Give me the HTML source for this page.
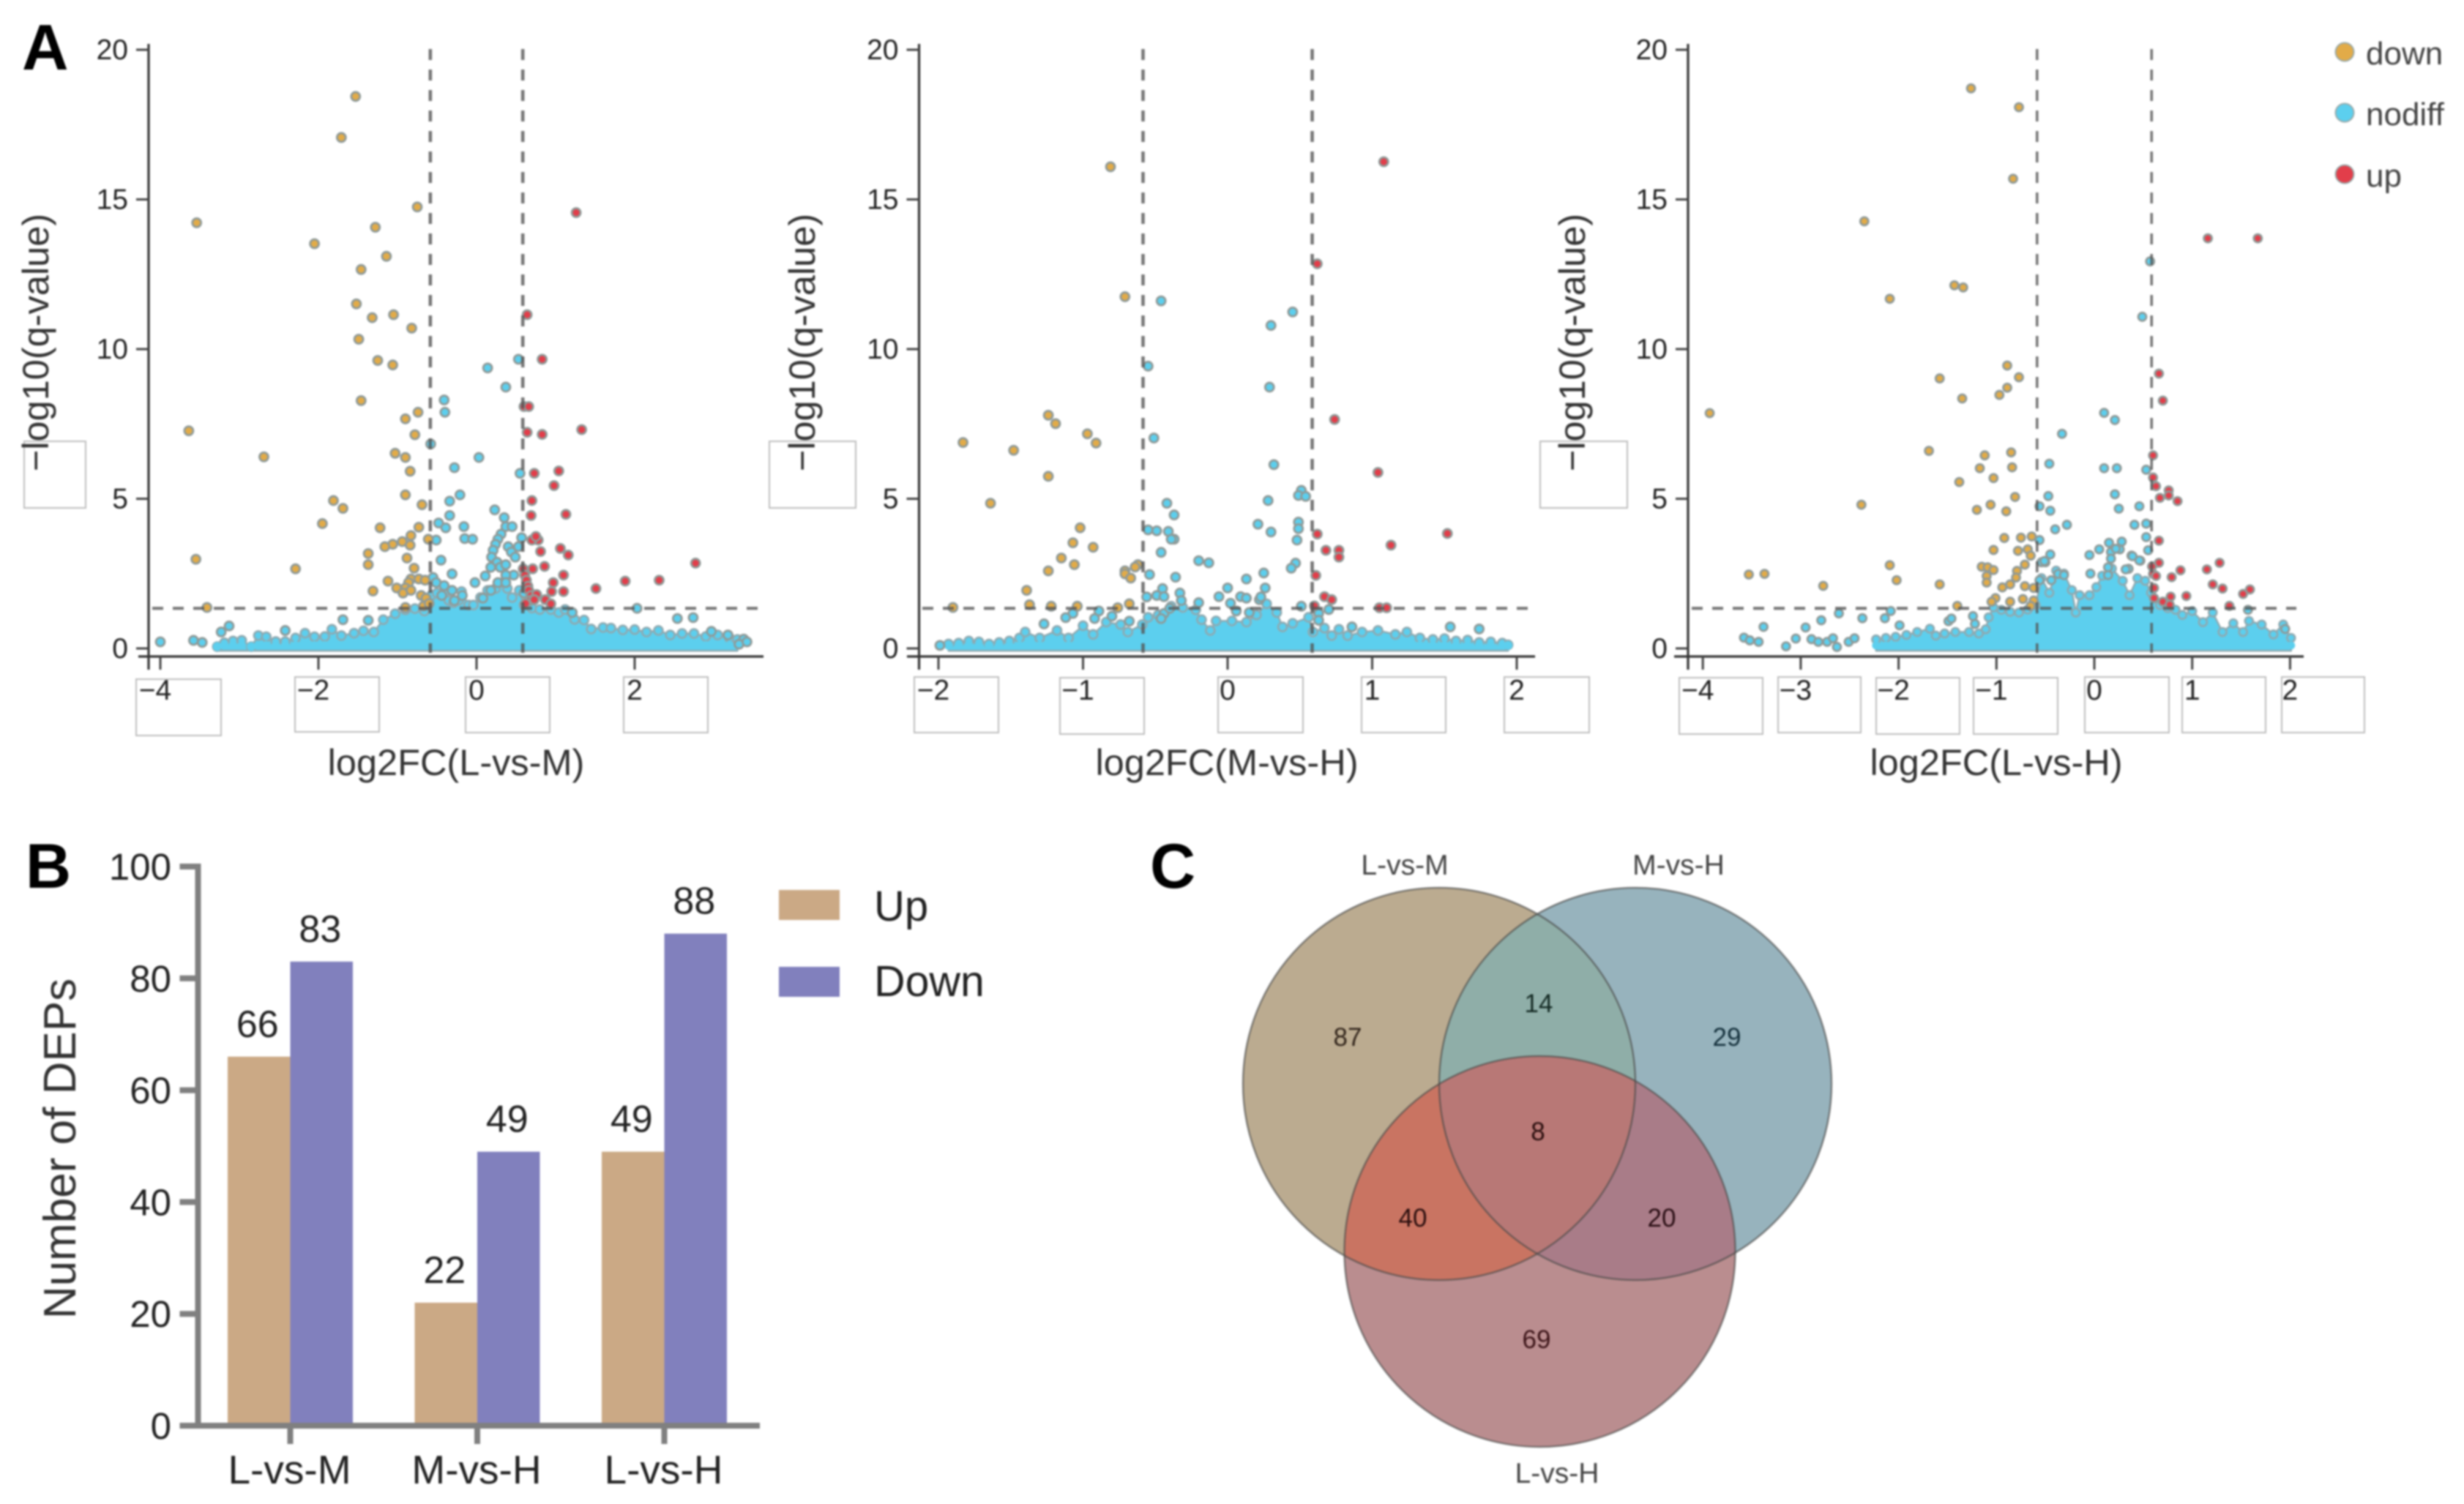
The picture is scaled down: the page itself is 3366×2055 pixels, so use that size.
<!DOCTYPE html>
<html lang="en">
<head>
<meta charset="utf-8">
<title>DEP volcano plots, bar chart and Venn diagram</title>
<style>
html,body{margin:0;padding:0;background:#fff;width:3366px;height:2055px;overflow:hidden}
svg{display:block;filter:blur(1.3px)}
text{font-family:"Liberation Sans",sans-serif;fill:#222}
</style>
</head>
<body>
<svg id="fig" xmlns="http://www.w3.org/2000/svg" width="3366" height="2055" viewBox="0 0 3366 2055">
  <rect width="3366" height="2055" fill="#fff"/>
  <text x="30" y="95" font-size="88" font-weight="bold" style="fill:#000">A</text>
  <text x="35" y="1213" font-size="86" font-weight="bold" style="fill:#000">B</text>
  <text x="1571" y="1213" font-size="86" font-weight="bold" style="fill:#000">C</text>
  <g id="volcanoes"></g>
  <g id="legendA"></g>
  <g id="bars"></g>
  <defs>
    <clipPath id="clipLM"><circle cx="1966" cy="1481" r="268"/></clipPath>
    <clipPath id="clipMH"><circle cx="2234" cy="1481" r="268"/></clipPath>
  </defs>
  <g>
    <circle cx="1966" cy="1481" r="268" fill="#BBAB90"/>
    <circle cx="2234" cy="1481" r="268" fill="#97B3BD"/>
    <circle cx="2103.5" cy="1710" r="267" fill="#BA8D8F"/>
    <circle cx="2234" cy="1481" r="268" fill="#8FAEA8" clip-path="url(#clipLM)"/>
    <circle cx="2103.5" cy="1710" r="267" fill="#C97462" clip-path="url(#clipLM)"/>
    <circle cx="2103.5" cy="1710" r="267" fill="#A97C88" clip-path="url(#clipMH)"/>
    <g clip-path="url(#clipMH)">
      <circle cx="2103.5" cy="1710" r="267" fill="#B87876" clip-path="url(#clipLM)"/>
    </g>
    <circle cx="1966" cy="1481" r="268" fill="none" stroke="#4a4a48" stroke-opacity=".65" stroke-width="2.5"/>
    <circle cx="2234" cy="1481" r="268" fill="none" stroke="#4a4a48" stroke-opacity=".65" stroke-width="2.5"/>
    <circle cx="2103.5" cy="1710" r="267" fill="none" stroke="#4a4a48" stroke-opacity=".65" stroke-width="2.5"/>
    <text x="1919" y="1195" font-size="39" text-anchor="middle" style="fill:#444">L-vs-M</text>
    <text x="2293" y="1195" font-size="39" text-anchor="middle" style="fill:#444">M-vs-H</text>
    <text x="2127" y="2026" font-size="39" text-anchor="middle" style="fill:#444">L-vs-H</text>
    <text x="1841" y="1429" font-size="35" text-anchor="middle" style="fill:#33261c">87</text>
    <text x="2102" y="1383" font-size="35" text-anchor="middle" style="fill:#142a24">14</text>
    <text x="2359" y="1429" font-size="35" text-anchor="middle" style="fill:#14303c">29</text>
    <text x="2101" y="1558" font-size="35" text-anchor="middle" style="fill:#2a0e0e">8</text>
    <text x="1930" y="1676" font-size="35" text-anchor="middle" style="fill:#2a0e0e">40</text>
    <text x="2270" y="1676" font-size="35" text-anchor="middle" style="fill:#2a0e14">20</text>
    <text x="2099" y="1842" font-size="35" text-anchor="middle" style="fill:#3c1418">69</text>
  </g>
</svg>
<script>
/* ---------- Panel A data: [log2FC, -log10(q)] ---------- */
const lvmDown = [[-1.53,18.44],[-1.71,17.07],[-.75,14.75],[-3.54,14.22],[-1.28,14.07],[-2.05,13.52],[-1.14,13.1],[-1.46,12.66],[-1.52,11.51],[-1.32,11.05],[-1.05,11.15],[-.82,10.7],[-1.49,10.33],[-1.25,9.62],[-1.06,9.47],[-1.46,8.28],[-.74,7.89],[-.9,7.67],[-3.64,7.27],[-.78,7.14],[-1.03,6.52],[-.9,6.38],[-2.69,6.4],[-.84,5.92],[-.9,5.13],[-1.81,4.94],[-1.69,4.68],[-.69,4.8],[-1.95,4.17],[-1.22,4.03],[-.73,4.05],[-.83,3.77],[-.61,3.65],[-.94,3.57],[-1.06,3.48],[-1.16,3.4],[-.84,3.45],[-1.37,3.17],[-.88,3.02],[-3.55,2.98],[-1.37,2.8],[-.79,2.68],[-2.29,2.66],[-1.12,2.25],[-1.31,1.92],[-.83,2.32],[-.73,2.32],[-.65,2.28],[-.86,2.2],[-.9,2.02],[-1.01,2.02],[-.93,1.85],[-.83,1.94],[-.7,1.77],[-.64,1.68],[-3.41,1.37],[-.67,1.42],[-.9,1.37],[-.6,1.5]];
const lvmUp = [[1.26,14.56],[.64,11.15],[.83,9.66],[.6,8.08],[.66,8.08],[1.33,7.31],[.64,7.22],[.83,7.15],[.73,5.85],[1.04,5.93],[.98,5.44],[.7,4.94],[.69,4.44],[1.13,4.48],[.73,3.65],[.78,3.62],[.7,3.62],[.75,3.74],[.81,3.24],[1.06,3.34],[1.16,3.12],[2.77,2.85],[.71,2.66],[.86,2.74],[1.1,2.45],[.59,2.66],[.61,2.45],[.63,2.28],[.65,2.08],[.66,1.94],[.69,1.77],[.76,1.8],[.68,1.6],[.73,1.63],[.97,2.2],[.95,1.9],[1.1,1.9],[1.51,2],[1.88,2.25],[2.31,2.28],[.87,1.63],[.94,1.49],[.62,1.5]];
const lvmNodiff = [[-.41,8.3],[-.4,7.89],[.14,9.37],[.53,9.66],[.37,8.73],[-.58,6.83],[.03,6.38],[-.28,6.04],[.55,5.85],[-.21,5.13],[-.34,4.92],[-.34,4.44],[.23,4.63],[.35,4.37],[-.48,4.19],[-.39,4.03],[-.16,4.07],[-.51,3.62],[-.15,3.67],[-.05,3.65],[.57,3.7],[.37,4.07],[.45,4.07],[.31,3.82],[.27,3.65],[.24,3.48],[.21,3.28],[.19,3.05],[.26,2.88],[.18,2.71],[.3,2.71],[.37,2.8],[.4,3.4],[.44,3.22],[.53,3.4],[.49,3.05],[.47,2.45],[.37,2.45],[.11,2.42],[-.02,2.2],[-.45,2.95],[-.31,2.49],[-.55,2.37],[-.51,2.2],[-.41,2.1],[-.31,1.94],[-.18,1.77],[-.44,1.77],[-.28,1.6],[.08,1.68],[.18,1.94],[.27,2.2],[.37,2.2],[.6,1.85],[-4,.22],[-3.58,.27],[-3.47,.2],[-3.23,.55],[-3.13,.75],[-2.42,.6],[-1.69,.96],[-1.37,.94],[2.03,1.34],[2.54,1],[2.74,1.03],[2.97,.57],[3.18,.45],[3.38,.31],[3.32,.14],[3.42,.22],[1.21,1.2]];
const lvmCloudX = [-3.28,-3.19,-3.08,-2.97,-2.85,-2.76,-2.66,-2.54,-2.42,-2.29,-2.17,-2.05,-1.92,-1.83,-1.71,-1.55,-1.43,-1.3,-1.18,-1.03,-.9,-.78,-.66,-.57,-.5,-.41,-.35,-.29,-.23,-.19,-.1,-.04,.05,.14,.24,.33,.39,.45,.54,.6,.7,.8,.94,1.04,1.12,1.24,1.36,1.45,1.6,1.7,1.85,2,2.15,2.3,2.45,2.6,2.75,2.9,3.05,3.2,3.3];
const lvmCloudTop = [.06,.19,.25,.27,.06,.43,.39,.23,.23,.35,.51,.39,.4,.64,.43,.51,.59,.55,.96,1.16,1.29,1.33,1.25,1.78,1.85,1.82,1.6,1.53,1.6,1.9,1.45,1.45,1.7,1.94,2,2.2,2,1.7,1.94,1.45,1.35,1.3,1.3,1.2,1.3,.97,.95,.65,.7,.68,.62,.63,.55,.6,.45,.5,.5,.4,.45,.35,.3];

const mvhDown = [[-.81,16.09],[-.71,11.75],[-1.24,7.79],[-1.19,7.51],[-.97,7.17],[-.91,6.86],[-1.83,6.88],[-1.48,6.62],[-1.24,5.75],[-1.64,4.85],[-1.02,4.03],[-1.07,3.53],[-.93,3.38],[-1.15,3.02],[-1.06,2.8],[-1.24,2.59],[-.62,2.8],[-.64,2.72],[-.71,2.59],[-.71,2.49],[-.67,2.35],[-1.39,1.94],[-1.9,1.37],[-1.37,1.46],[-1.22,1.41],[-1.04,1.41],[-.76,1.36],[-.68,1.49]];
const mvhUp = [[1.08,16.26],[.62,12.85],[.74,7.65],[1.04,5.88],[.62,3.82],[1.52,3.84],[1.13,3.45],[.68,3.28],[.77,3.28],[.77,3.05],[.61,2.44],[.67,1.73],[.72,1.63],[.6,1.42],[1.05,1.36],[1.1,1.36]];
const mvhNodiff = [[-.46,11.61],[.45,11.24],[.3,10.79],[-.55,9.43],[.29,8.73],[-.51,7.03],[.32,6.14],[.51,5.28],[.49,5.11],[.54,5.08],[.28,4.94],[-.42,4.85],[-.37,4.46],[.21,4.15],[.49,4.22],[.49,4],[.3,3.89],[-.55,3.96],[-.49,3.93],[-.41,3.91],[-.37,3.65],[-.39,3.65],[.48,3.62],[-.46,3.21],[-.2,2.93],[-.13,2.86],[.47,2.85],[.44,2.68],[-.54,2.47],[.25,2.52],[-.36,2.38],[.13,2.32],[0,2.02],[.26,2.02],[-.45,2],[-.49,1.77],[-.56,1.72],[-.44,1.73],[-.33,1.85],[-.32,1.6],[-.2,1.53],[-.06,1.73],[.02,1.51],[.09,1.73],[.13,1.68],[.22,1.63],[.23,1.72],[.51,1.41],[.06,1.25],[.15,1.2],[.63,1.17],[.63,.94],[.7,1.3],[-.89,1.25],[-.92,1],[-.8,1.08],[-1.07,1.17],[-1.12,1.03],[-1.27,.82],[-.68,.91],[.86,.72],[1.54,.72],[1.74,.65],[-1.99,.1],[-.44,1.17],[-.4,1.34],[-.46,1]];
const mvhCloudX = [-1.93,-1.86,-1.79,-1.72,-1.65,-1.58,-1.51,-1.44,-1.4,-1.3,-1.18,-1.1,-1,-.93,-.84,-.74,-.69,-.59,-.55,-.48,-.39,-.31,-.22,-.18,-.12,-.08,.03,.13,.2,.27,.34,.38,.45,.56,.59,.67,.72,.77,.83,.93,1.04,1.16,1.24,1.33,1.42,1.5,1.58,1.66,1.74,1.82,1.9,1.94];
const mvhCloudTop = [.15,.18,.25,.22,.15,.2,.25,.35,.55,.35,.6,.35,.76,.47,.88,.8,.55,.8,1.04,1.12,1.41,1.37,1.29,.96,.6,.92,.92,.88,1.12,1.49,1.2,.72,.84,1.04,.55,.68,.43,.64,.43,.55,.6,.47,.55,.35,.3,.33,.25,.28,.2,.22,.18,.12];

const lvhDown = [[-1.26,18.71],[-.77,18.08],[-.83,15.69],[-2.35,14.27],[-1.43,12.13],[-1.34,12.06],[-2.09,11.68],[-.89,9.45],[-.77,9.06],[-1.58,9.02],[-.89,8.71],[-.97,8.47],[-1.35,8.35],[-3.93,7.86],[-1.69,6.6],[-.85,6.55],[-1.12,6.45],[-1.17,6.02],[-.84,6.05],[-1.03,5.69],[-1.38,5.56],[-.81,5.06],[-2.38,4.8],[-1.06,4.8],[-1.2,4.63],[-.9,4.58],[-.92,3.69],[-.75,3.7],[-.64,3.74],[-1.03,3.29],[-.78,3.26],[-.68,3.31],[-.65,3.1],[-.71,2.8],[-2.09,2.78],[-1.15,2.73],[-1.09,2.71],[-1.03,2.62],[-.79,2.59],[-3.53,2.47],[-3.37,2.49],[-2.02,2.28],[-1.1,2.42],[-1.1,2.2],[-.8,2.37],[-.86,2.14],[-.94,2.04],[-.71,2.08],[-1.58,2.14],[-2.77,2.09],[-.62,2.02],[-1.01,1.68],[-1.05,1.56],[-.86,1.56],[-.73,1.65],[-.62,1.6],[-1.4,1.42],[-.65,1.42]];
const lvhUp = [[1.16,13.7],[1.67,13.7],[.66,9.18],[.7,8.28],[.6,6.45],[.6,5.71],[.63,5.42],[.76,5.28],[.67,5.03],[.76,5.11],[.85,4.92],[.66,3.6],[1.28,2.86],[1.15,2.64],[.88,2.61],[.66,2.86],[.59,2.74],[.6,2.49],[.63,2.42],[.79,2.38],[1.21,2.14],[1.31,2],[1.59,1.97],[1.52,1.82],[.61,2.02],[.61,1.68],[.78,1.73],[.94,1.75],[.7,1.56],[.77,1.46],[1.38,1.42]];
const lvhNodiff = [[.57,12.93],[.49,11.08],[.1,7.87],[.21,7.63],[-.33,7.17],[-.46,6.17],[.1,6.02],[.23,6.02],[.53,5.97],[-.47,5.09],[.21,5.15],[-.56,4.75],[-.45,4.6],[.25,4.67],[.46,4.75],[-.28,4.13],[-.4,3.98],[.41,4.13],[.53,4.17],[.53,3.72],[-.56,3.62],[-.05,3.12],[.05,3.31],[.15,3.53],[.28,3.57],[.26,3.31],[.17,3.22],[.38,3.1],[.47,2.93],[.55,3.28],[-.45,3.14],[-.5,2.88],[-.54,2.88],[-.04,2.5],[.14,2.71],[.35,2.66],[.14,2.45],[-.37,2.49],[-.56,2.28],[-.44,2.28],[-.31,2.45],[-.51,2.92],[.22,3.33],[.17,3],[.46,2.94],[.32,2.64],[.39,3.08],[-3.58,.36],[-3.52,.27],[-3.43,.22],[-3.38,.72],[-3.15,.07],[-3.05,.33],[-2.95,.7],[-2.79,.94],[-2.89,.31],[-2.82,.22],[-2.73,.22],[-2.67,.34],[-2.63,.05],[-2.61,1.17],[-2.51,.22],[-2.45,.34],[-2.37,1.01],[-2.14,1.01],[-2.08,1.25],[-1.99,.77],[-1.49,.91],[-1.46,1],[-1.24,1.08],[-1.22,.82],[1.57,1.29],[1.95,.65]];
const lvhCloudX = [-2.23,-2.13,-2.03,-1.92,-1.81,-1.68,-1.62,-1.53,-1.42,-1.28,-1.18,-1.11,-1.08,-1.03,-.95,-.86,-.77,-.68,-.6,-.54,-.46,-.39,-.31,-.23,-.19,-.15,-.05,.02,.08,.18,.29,.36,.44,.52,.58,.67,.75,.83,.9,1,1.11,1.21,1.31,1.42,1.52,1.58,1.71,1.83,1.93,2.01];
const lvhCloudTop = [.3,.35,.39,.45,.55,.66,.43,.5,.55,.55,.5,.64,1.04,1.37,1.29,1.22,1.2,1.3,1.45,2.35,1.86,2.6,2.5,1.95,1.2,1.78,1.78,2.05,2.43,2.67,2.26,1.78,2.35,2.26,1.86,1.45,1.35,1.29,1.12,1.25,.88,1.2,.55,.84,.55,.92,.8,.47,.8,.35];

const volcanoTitles = ['log2FC(L-vs-M)','log2FC(M-vs-H)','log2FC(L-vs-H)'];
const yTickValues = [0,5,10,15,20];
const lvmXTicks = [-4,-2,0,2];
const mvhXTicks = [-2,-1,0,1,2];
const lvhXTicks = [-4,-3,-2,-1,0,1,2];
const foldCutoff = 0.585;
const qCutoff = 1.34;

/* ---------- Panel B data ---------- */
const barCategories = ['L-vs-M','M-vs-H','L-vs-H'];
const upValues = [66,22,49];
const downValues = [83,49,88];
const barTicks = [0,20,40,60,80,100];

const NS = 'http://www.w3.org/2000/svg';
function mk(parent, tag, attrs, txt){
  const el = document.createElementNS(NS, tag);
  for (const k in attrs) el.setAttribute(k, attrs[k]);
  if (txt !== undefined) el.textContent = txt;
  parent.appendChild(el);
  return el;
}
function fmt(v){ return v < 0 ? '\u2212' + Math.abs(v) : String(v); }

const COLORS = {down:'#E2AB48', nodiff:'#5CCFEE', up:'#E23E4A'};
const volcanoRoot = document.getElementById('volcanoes');

function drawVolcano(cfg){
  const g = mk(volcanoRoot,'g',{});
  
  
  const X = v => cfg.x0 + cfg.sx * v;
  const Y = v => 886 - 40.9 * v;

  cfg.boxes.forEach(b => {
    const r = mk(g,'rect',{x:b[0],y:b[1],width:b[2]-b[0],height:b[3]-b[1],fill:'#fff',stroke:'#bdbdbd','stroke-width':2});
    
    
  });

  // dense cloud envelope
  let d = 'M' + X(cfg.cloudX[0]) + ' ' + Y(-0.08);
  cfg.cloudX.forEach((x,i) => { d += 'L' + X(x) + ' ' + Y(cfg.cloudTop[i]); });
  d += 'L' + X(cfg.cloudX[cfg.cloudX.length-1]) + ' ' + Y(-0.08) + 'Z';
  const cloud = mk(g,'path',{d:d,fill:COLORS.nodiff,stroke:'#8fa9b0','stroke-width':2.5,'stroke-linejoin':'round'});
  
  
  cfg.cloudX.forEach((x,i) => {
    const c = mk(g,'circle',{cx:X(x),cy:Y(cfg.cloudTop[i]),r:cfg.r,fill:COLORS.nodiff,stroke:'#8fa9b0','stroke-width':2.6});
    
    
  });
  cfg.cloudX.forEach((x,i) => {
    const b = mk(g,'circle',{cx:X(x),cy:Y(Math.min(cfg.cloudTop[i],0.1)),r:cfg.r,fill:COLORS.nodiff,stroke:'none'});
    
    
  });

  [['nodiff',cfg.nodiff],['down',cfg.down],['up',cfg.up]].forEach(s => {
    s[1].forEach(p => {
      const c = mk(g,'circle',{cx:X(p[0]),cy:Y(p[1]),r:cfg.r,fill:COLORS[s[0]],stroke:'#8f9a98','stroke-width':2.8});
      
      
    });
  });

  // threshold lines
  [-foldCutoff, foldCutoff].forEach(v => {
    const l = mk(g,'line',{x1:X(v),x2:X(v),y1:67,y2:892,stroke:'#555','stroke-width':cfg.dashW,'stroke-dasharray':'15 13','stroke-opacity':.8});
    
    
  });
  const hl = mk(g,'line',{x1:cfg.hx1,x2:cfg.hx2,y1:Y(qCutoff),y2:Y(qCutoff),stroke:'#555','stroke-width':4.2,'stroke-dasharray':'15 13','stroke-opacity':.8});
  
  

  // axes
  const ya = mk(g,'line',{x1:cfg.ax,x2:cfg.ax,y1:60,y2:915,stroke:'#333','stroke-width':3.2});
  
  
  const xa = mk(g,'line',{x1:cfg.xa1,x2:cfg.xa2,y1:897,y2:897,stroke:'#333','stroke-width':3.2});
  
  

  yTickValues.forEach(v => {
    const t = mk(g,'line',{x1:cfg.ax-17,x2:cfg.ax,y1:Y(v),y2:Y(v),stroke:'#444','stroke-width':3});
    
    
    const l = mk(g,'text',{x:cfg.ax-28,y:Y(v)+13,'font-size':39,'text-anchor':'end'},String(v));
    
    
  });
  cfg.xTicks.forEach(v => {
    const t = mk(g,'line',{x1:X(v),x2:X(v),y1:897,y2:915,stroke:'#444','stroke-width':3});
    
    
    const l = mk(g,'text',{x:X(v)-(v<0?7:0),y:956,'font-size':39,'text-anchor':'middle'},fmt(v));
    
    
  });
  const xt = mk(g,'text',{x:cfg.xtx,y:1059,'font-size':50.5,'text-anchor':'middle',style:'fill:#333'},cfg.title);
  
  
  const yt = mk(g,'text',{transform:'translate('+cfg.ytx+' 468) rotate(-90)','font-size':50.5,'text-anchor':'middle',style:'fill:#333'},'\u2212log10(q-value)');
  
  
}

drawVolcano({name:'volcano-l-vs-m',title:volcanoTitles[0],x0:651,sx:108,ax:203,xa1:189,xa2:1043,hx1:208,hx2:1037,xtx:623,ytx:66,r:6,dashW:4.6,
  xTicks:lvmXTicks,down:lvmDown,up:lvmUp,nodiff:lvmNodiff,cloudX:lvmCloudX,cloudTop:lvmCloudTop,
  boxes:[[33,603,117,694],[186,928,302,1005],[403,925,518,1000],[636,925,751,1001],[852,925,967,1001]]});
drawVolcano({name:'volcano-m-vs-h',title:volcanoTitles[1],x0:1677,sx:197.5,ax:1255.5,xa1:1239,xa2:2097,hx1:1260,hx2:2088,xtx:1676,ytx:1113,r:6,dashW:4.6,
  xTicks:mvhXTicks,down:mvhDown,up:mvhUp,nodiff:mvhNodiff,cloudX:mvhCloudX,cloudTop:mvhCloudTop,
  boxes:[[1051,603,1169,694],[1249,925,1364,1001],[1448,926,1563,1003],[1664,925,1780,1001],[1860,925,1975,1001],[2055,925,2171,1001]]});
drawVolcano({name:'volcano-l-vs-h',title:volcanoTitles[2],x0:2861,sx:133.7,ax:2306,xa1:2287,xa2:3147,hx1:2311,hx2:3137,xtx:2727,ytx:2165,r:5.5,dashW:3.6,
  xTicks:lvhXTicks,down:lvhDown,up:lvhUp,nodiff:lvhNodiff,cloudX:lvhCloudX,cloudTop:lvhCloudTop,
  boxes:[[2104,603,2223,694],[2294,926,2408,1003],[2429,925,2542,1001],[2563,926,2677,1003],[2696,926,2811,1003],[2848,925,2963,1001],[2981,925,3095,1001],[3117,925,3230,1001]]});

/* legend */
const legendRoot = document.getElementById('legendA');
const legendNames = ['down','nodiff','up'];
legendNames.forEach((n,i) => {
  const cy = [71,154,238][i];
  const c = mk(legendRoot,'circle',{cx:3203,cy:cy,r:12.5,fill:COLORS[n],stroke:'#9aa','stroke-width':2});
  
  
  const t = mk(legendRoot,'text',{x:3232,y:cy+17,'font-size':44,style:'fill:#444'},n);
  
  
});

/* ---------- Panel B ---------- */
const barRoot = document.getElementById('bars');
const BY = v => 1948 - 7.64 * v;
const BW = 85.5;
const groupCenters = i => 396.5 + 255.5 * i;
barCategories.forEach((cat,i) => {
  const gc = groupCenters(i);
  const up = mk(barRoot,'rect',{x:gc-BW,y:BY(upValues[i]),width:BW,height:BY(0)-BY(upValues[i]),fill:'#CBA985'});
  
  
  const dn = mk(barRoot,'rect',{x:gc,y:BY(downValues[i]),width:BW,height:BY(0)-BY(downValues[i]),fill:'#8180BD'});
  
  
  const ul = mk(barRoot,'text',{x:gc-BW/2-2,y:BY(upValues[i])-27,'font-size':52,'text-anchor':'middle'},String(upValues[i]));
  
  
  const dl = mk(barRoot,'text',{x:gc+BW/2-2,y:BY(downValues[i])-27,'font-size':52,'text-anchor':'middle'},String(downValues[i]));
  
  
  const t = mk(barRoot,'line',{x1:gc,x2:gc,y1:1948,y2:1973,stroke:'#808080','stroke-width':8});
  
  
  const l = mk(barRoot,'text',{x:gc-1,y:2027,'font-size':55,'text-anchor':'middle'},cat);
  
  
});
const bya = mk(barRoot,'line',{x1:270.5,x2:270.5,y1:BY(100)-4,y2:BY(0)+4,stroke:'#808080','stroke-width':8});


const bxa = mk(barRoot,'line',{x1:245.5,x2:1038,y1:BY(0),y2:BY(0),stroke:'#808080','stroke-width':8});


barTicks.forEach(v => {
  const t = mk(barRoot,'line',{x1:245.5,x2:270.5,y1:BY(v),y2:BY(v),stroke:'#808080','stroke-width':8});
  
  
  const l = mk(barRoot,'text',{x:234,y:BY(v)+18,'font-size':51,'text-anchor':'end'},String(v));
  
  
});
const byt = mk(barRoot,'text',{transform:'translate(103 1569.5) rotate(-90)','font-size':62,'text-anchor':'middle',style:'fill:#333'},'Number of DEPs');


const sw1 = mk(barRoot,'rect',{x:1064,y:1216,width:83,height:41,fill:'#CBA985'});


const sw2 = mk(barRoot,'rect',{x:1064,y:1321,width:83,height:41,fill:'#8180BD'});


const lt1 = mk(barRoot,'text',{x:1194,y:1258,'font-size':58},'Up');


const lt2 = mk(barRoot,'text',{x:1194,y:1361,'font-size':59},'Down');


</script>
</body>
</html>
